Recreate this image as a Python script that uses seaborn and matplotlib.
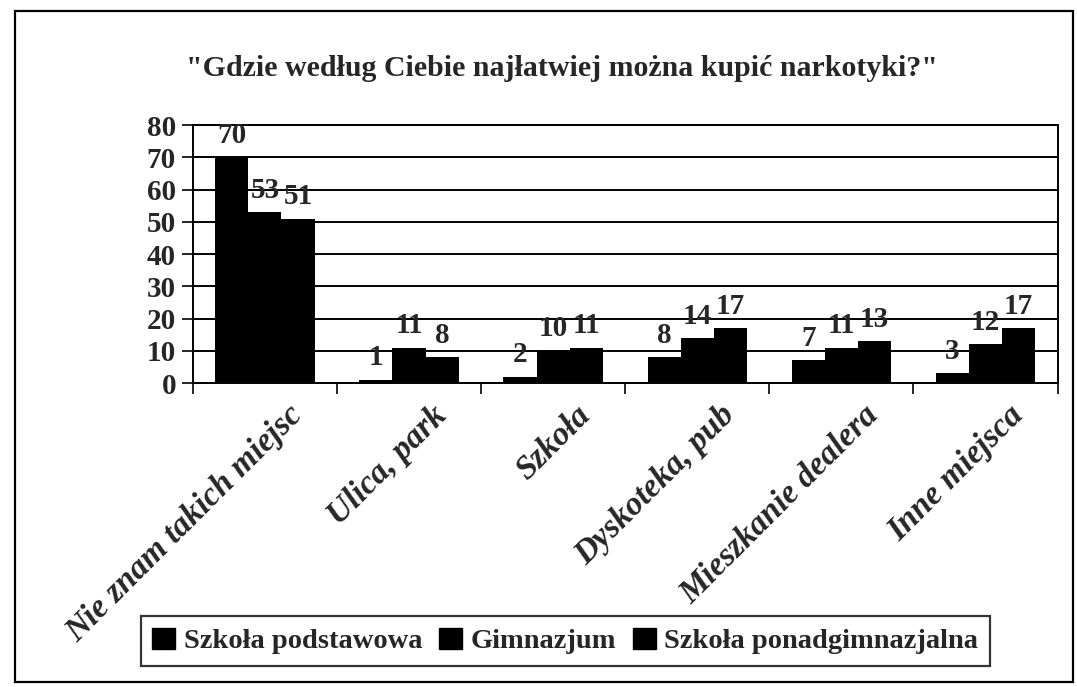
"""Grouped bar chart: where is it easiest to buy drugs (survey by school type)."""
import matplotlib.pyplot as plt
import matplotlib.patches as mpatches
import matplotlib.transforms as mtransforms
import pandas as pd
import seaborn as sns
from matplotlib.ticker import FixedLocator

# data
places = ['Nie znam takich miejsc', 'Ulica, park', 'Szkoła',
          'Dyskoteka, pub', 'Mieszkanie dealera', 'Inne miejsca']
schools = ['Szkoła podstawowa', 'Gimnazjum', 'Szkoła ponadgimnazjalna']
podstawowa = [70, 1, 2, 8, 7, 3]
gimnazjum = [53, 11, 10, 14, 11, 12]
ponadgimnazjalna = [51, 8, 11, 17, 13, 17]

sns.set_style('white')
plt.rcParams['font.family'] = ['Liberation Serif', 'DejaVu Serif']
plt.rcParams['font.weight'] = 'bold'

rows = []
for series, vals in zip(schools, [podstawowa, gimnazjum, ponadgimnazjalna]):
    for place, v in zip(places, vals):
        rows.append({'Miejsce': place, 'Szkoła': series, 'Procent': v})
df = pd.DataFrame(rows)

fig = plt.figure(figsize=(10.77, 6.87), dpi=100)
ax = fig.add_axes([0.179, 0.4425, 0.803, 0.3755])

# horizontal grid behind the bars
for y in range(0, 90, 10):
    ax.axhline(y, color='black', lw=1.4, zorder=0)

sns.barplot(data=df, x='Miejsce', y='Procent', hue='Szkoła', order=places,
            hue_order=schools, palette=['black'] * 3, width=0.69,
            saturation=1, edgecolor='black', linewidth=0, ax=ax, legend=False,
            zorder=2)

for cont in ax.containers:
    ax.bar_label(cont, padding=6, fontsize=21, fontweight='bold')

ax.set_ylim(0, 80)
ax.set_xlim(-0.5, len(places) - 0.5)
ax.set_yticks(range(0, 90, 10))
ax.tick_params(axis='y', labelsize=21, length=8, width=1.4, direction='out',
               left=True, pad=4)
ax.set_xticklabels(places, rotation=45, ha='right', rotation_mode='anchor',
                   fontsize=24, fontstyle='italic', fontweight='bold')
ax.tick_params(axis='x', which='major', length=0, pad=12)
# shift the rotated labels a little to the right, like the original
shift = mtransforms.ScaledTranslation(0.22, 0, fig.dpi_scale_trans)
for lbl in ax.get_xticklabels():
    lbl.set_transform(lbl.get_transform() + shift)
ax.xaxis.set_minor_locator(FixedLocator([i - 0.5 for i in range(len(places) + 1)]))
ax.tick_params(axis='x', which='minor', length=8, width=1.4, direction='out',
               bottom=True)
ax.set_xlabel('')
ax.set_ylabel('')
for side in ['left', 'bottom', 'right', 'top']:
    ax.spines[side].set_visible(True)
    ax.spines[side].set_color('black')
    ax.spines[side].set_linewidth(1.4)

fig.suptitle('"Gdzie według Ciebie najłatwiej można kupić narkotyki?"',
             x=0.522, y=0.901, va='center', fontsize=21.5, fontweight='bold')

handles = [mpatches.Patch(facecolor='black', edgecolor='black') for _ in schools]
leg = fig.legend(handles, schools, loc='center', bbox_to_anchor=(0.525, 0.067),
                 ncol=3, frameon=True, fancybox=False, fontsize=20.5,
                 handlelength=0.8, handleheight=0.8, handletextpad=0.3,
                 columnspacing=0.6, borderpad=0.4)
leg.get_frame().set_edgecolor('black')
leg.get_frame().set_linewidth(1.6)

# outer frame around the whole chart
fig.patches.append(mpatches.Rectangle((0.014, 0.007), 0.982, 0.977,
                                      transform=fig.transFigure, fill=False,
                                      edgecolor='black', lw=1.6))

fig.savefig('out.png', dpi=100)
